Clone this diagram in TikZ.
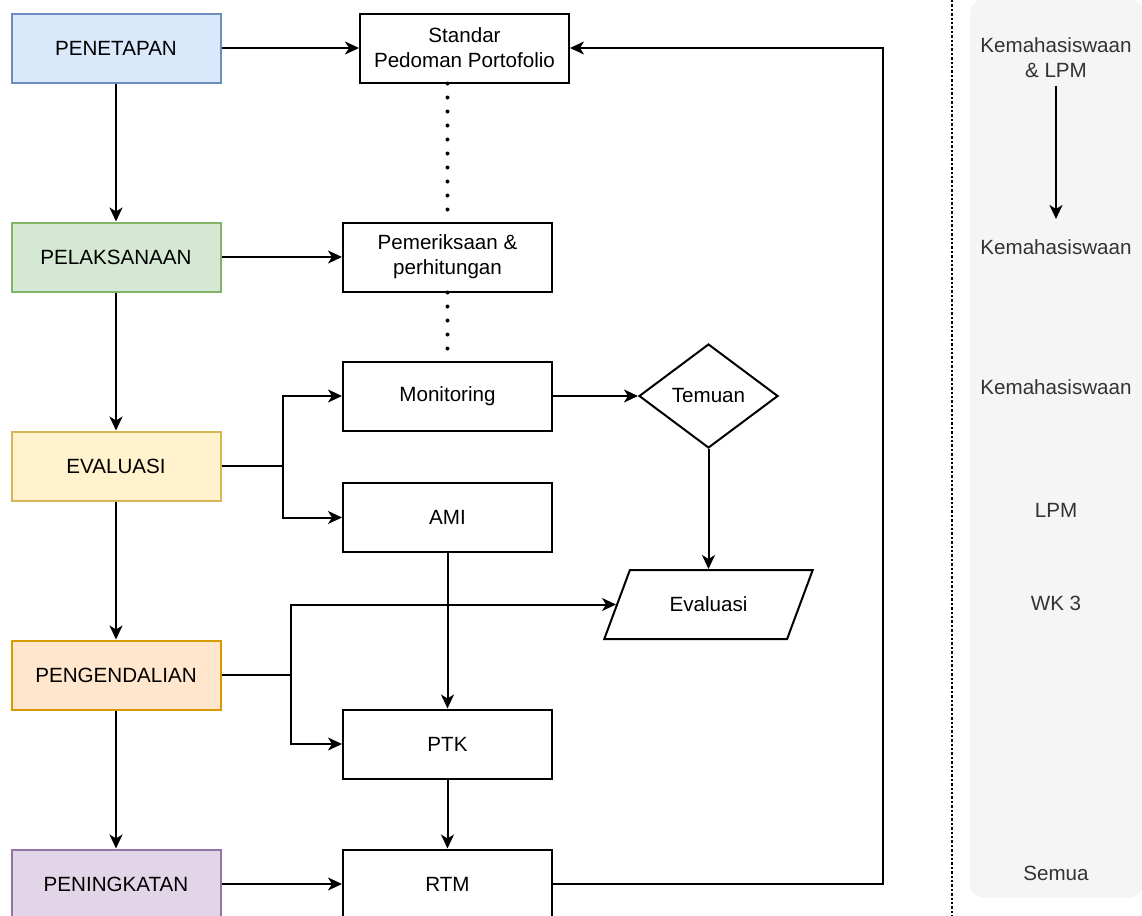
\documentclass[tikz,border=0pt]{standalone}
\usepackage{fontspec}
\setmainfont{Liberation Sans}
\usepackage{xcolor}
\usepackage{tikz}
\usetikzlibrary{arrows.meta, shapes.geometric, positioning}

\definecolor{penfill}{HTML}{DAE8FC}
\definecolor{penline}{HTML}{6C8EBF}
\definecolor{pelfill}{HTML}{D5E8D4}
\definecolor{pelline}{HTML}{82B366}
\definecolor{evafill}{HTML}{FFF2CC}
\definecolor{evaline}{HTML}{D6B656}
\definecolor{pgdfill}{HTML}{FFE6CC}
\definecolor{pgdline}{HTML}{D79B00}
\definecolor{pgkfill}{HTML}{E1D5E7}
\definecolor{pgkline}{HTML}{9673A6}
\definecolor{panelgray}{HTML}{F5F5F5}
\definecolor{txtgray}{HTML}{333333}

\begin{document}
\begin{tikzpicture}[->,>={Stealth[length=7pt,width=6.5pt,inset=2pt]},x=0.5pt,y=-0.5pt,line width=1pt,
                    font=\fontsize{10.3}{12.4}\selectfont,node distance=104.5pt]

                \tikzset{stage/.style={draw, minimum width=104.5pt, minimum height=34.5pt, align=center},
                         box/.style={draw, fill=white, minimum width=104.5pt, minimum height=34.5pt, align=center},
                         role/.style={text=txtgray, align=center, minimum height=27pt, inner sep=2pt},
                         dotline/.style={-, line width=2pt, line cap=round, dash pattern=on 0pt off 7pt}}

                \useasboundingbox (0,0) rectangle (1142,916);

                % kolom kanan
                \fill[-, panelgray, rounded corners=7pt] (970,-1) rectangle (1143,898);
                \draw[-, line width=1pt, dash pattern=on 1.2pt off 1pt] (952,0) -- (952,916);

                % tahapan
                \node[stage, fill=penfill, draw=penline] (pen) at (116,48) {PENETAPAN};
                \node[stage, fill=pelfill, draw=pelline] (pel) [below of=pen] {PELAKSANAAN};
                \node[stage, fill=evafill, draw=evaline] (eva) [below of=pel] {EVALUASI};
                \node[stage, fill=pgdfill, draw=pgdline] (pgd) [below of=eva] {PENGENDALIAN};
                \node[stage, fill=pgkfill, draw=pgkline] (pgk) [below of=pgd] {PENINGKATAN};

                % kegiatan
                \node[box, node distance=174.25pt] (std) [right of=pen] {Standar\\Pedoman Portofolio};
                \node[box, node distance=165.75pt] (pmr) [right of=pel] {Pemeriksaan \&\\perhitungan};
                \node[box, node distance=69.5pt] (mon) [below of=pmr] {Monitoring};
                \node[box, node distance=60.75pt] (ami) [below of=mon] {AMI};
                \node[box, node distance=165.75pt] (rtm) [right of=pgk] {RTM};
                \node[box, node distance=70pt] (ptk) [above of=rtm] {PTK};
                \node[draw, diamond, fill=white, inner sep=0pt, aspect=1.34, minimum width=69.5pt, minimum height=52pt,
                      node distance=130.5pt] (tem) [right of=mon] {Temuan};
                \node[draw, trapezium, fill=white, trapezium left angle=62.4, trapezium right angle=117.6,
                      trapezium stretches=true, minimum width=104.5pt, minimum height=34.5pt,
                      node distance=104.25pt] (evl) [below of=tem] {Evaluasi};

                % pelaksana
                \node[role] (km1) at (1056,57.5) {Kemahasiswaan\\\& LPM};
                \node[role] (km2) at (1056,247) {Kemahasiswaan};
                \node[role] (km3) at (1056,387) {Kemahasiswaan};
                \node[role] (lpm) at (1056,510) {LPM};
                \node[role] (wk3) at (1056,603) {WK 3};
                \node[role] (sem) at (1056,873) {Semua};

                \path (pen) edge              node {} (pel);
                \path (pel) edge              node {} (eva);
                \path (eva) edge              node {} (pgd);
                \path (pgd) edge              node {} (pgk);
                \path (pen) edge              node {} (std);
                \path (pel) edge              node {} (pmr);
                \path (pgk) edge              node {} (rtm);
                \path (mon) edge              node {} (tem);
                \path (ami) edge              node {} (ptk);
                \path (ptk) edge              node {} (rtm);
                \path (km1) edge              node {} (km2);

                \draw (tem.south) -- (tem.south |- evl.north);
                \draw (eva.east) -- ++(61,0) |- (mon.west);
                \draw (eva.east) -- ++(61,0) |- (ami.west);
                \draw (pgd.east) -- ++(69,0) |- (evl.left side);
                \draw (pgd.east) -- ++(69,0) |- (ptk.west);
                \draw (rtm.east) -- ++(330,0) |- (std.east);

                \draw[dotline] (std.south -| pmr.north) -- (pmr.north);
                \draw[dotline] (pmr.south) -- (mon.north);
            \end{tikzpicture}
\end{document}
